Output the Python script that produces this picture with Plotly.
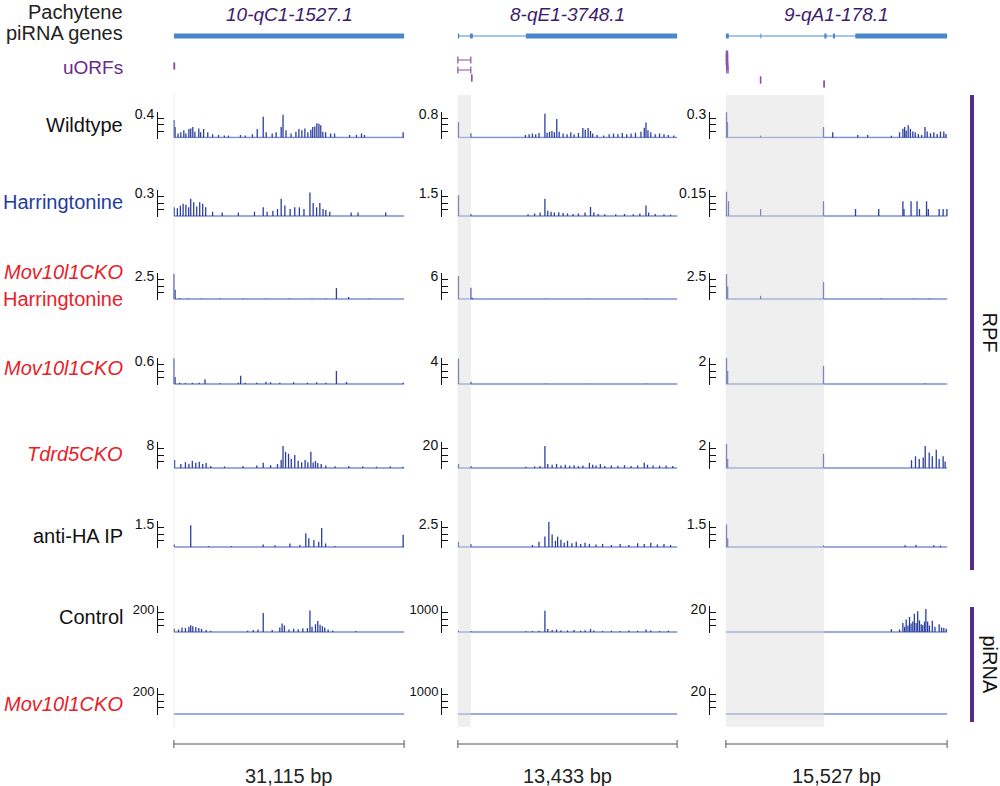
import plotly.graph_objects as go

W, H = 1000, 786

# three loci, each drawn as one column of tracks
genes = ["10-qC1-1527.1", "8-qE1-3748.1", "9-qA1-178.1"]
region_size = ["31,115 bp", "13,433 bp", "15,527 bp"]

track_names = ["Wildtype", "Harringtonine", "Mov10l1CKO Harringtonine", "Mov10l1CKO",
               "Tdrd5CKO", "anti-HA IP", "Control", "Mov10l1CKO"]
scale_max = [[0.4, 0.8, 0.3], [0.3, 1.5, 0.15], [2.5, 6, 2.5], [0.6, 4, 2],
             [8, 20, 2], [1.5, 2.5, 1.5], [200, 1000, 20], [200, 1000, 20]]
scale_text = [["0.4", "0.8", "0.3"], ["0.3", "1.5", "0.15"], ["2.5", "6", "2.5"], ["0.6", "4", "2"],
              ["8", "20", "2"], ["1.5", "2.5", "1.5"], ["200", "1000", "20"], ["200", "1000", "20"]]

# gene models: exon blocks as (start %, end %) of the region
exons_c1 = [(0, 100)]
exons_c2 = [(0, 0.6), (5.5, 6.8), (31, 100)]
exons_c3 = [(0, 1.3), (15.6, 16.0), (44.5, 45.5), (48.4, 49.3), (58.5, 100)]

# uORFs: (start %, end %, row)
uorf_c1 = [(0, 0.3, 3)]
uorf_c2 = [(0, 5.9, 1.5), (0, 5.9, 4), (6.3, 6.4, 6)]
uorf_c3 = [(0.2, 0.8, 0), (0.2, 0.8, 1), (0.2, 0.8, 2), (0.3, 0.9, 3), (0.4, 1.0, 4),
           (15.6, 15.8, 6.5), (44.3, 44.5, 7.5)]

# shaded parts of each locus (start %, end %)
shade = [(-0.3, 0.3), (-0.1, 5.9), (0, 44.4)]

# signal: (position % of region, value)
wt_c1 = [(0.1, 0.27), (0.5, 0.16), (1.8, 0.06), (3.0, 0.08), (4.3, 0.11), (5.2, 0.06), (6.5, 0.13),
         (7.3, 0.14), (8.2, 0.16), (9.1, 0.09), (10.8, 0.14), (11.6, 0.08), (12.9, 0.13), (14.7, 0.08),
         (16.8, 0.05), (19.4, 0.04), (21.9, 0.03), (23.7, 0.03), (28.9, 0.04), (31.0, 0.03), (34.1, 0.05),
         (36.2, 0.13), (38.8, 0.32), (40.1, 0.08), (42.7, 0.06), (44.4, 0.08), (46.6, 0.16), (47.4, 0.35),
         (48.7, 0.11), (50.9, 0.06), (53.0, 0.09), (54.3, 0.13), (55.6, 0.11), (56.9, 0.14), (58.2, 0.08),
         (59.5, 0.12), (60.3, 0.16), (61.2, 0.17), (62.1, 0.22), (63.0, 0.21), (63.8, 0.19), (64.7, 0.09),
         (65.9, 0.08), (68.1, 0.06), (69.8, 0.06), (76.3, 0.04), (79.3, 0.04), (81.5, 0.06), (82.8, 0.04),
         (99.6, 0.08)]
wt_c2 = [(0.3, 0.48), (5.9, 0.13), (30.8, 0.08), (32.5, 0.1), (34.0, 0.12), (35.5, 0.1), (37.0, 0.14),
         (39.7, 0.73), (40.7, 0.15), (41.8, 0.18), (42.9, 0.2), (44.0, 0.16), (45.1, 0.57), (46.2, 0.18),
         (48.0, 0.12), (49.8, 0.1), (51.5, 0.16), (53.0, 0.1), (55.0, 0.14), (57.0, 0.29), (58.1, 0.24),
         (59.4, 0.29), (60.5, 0.2), (61.5, 0.12), (63.5, 0.08), (66.5, 0.06), (69.0, 0.1), (71.0, 0.12),
         (73.0, 0.1), (75.0, 0.14), (77.0, 0.1), (79.0, 0.12), (81.0, 0.15), (83.5, 0.18), (85.0, 0.3),
         (85.8, 0.46), (86.7, 0.22), (88.0, 0.16), (90.0, 0.1), (92.0, 0.12), (94.0, 0.1), (96.0, 0.08),
         (98.5, 0.06)]
wt_c3 = [(0.3, 0.29), (0.7, 0.18), (15.7, 0.02), (44.1, 0.12), (48.3, 0.06), (59.6, 0.03), (64.1, 0.03),
         (74.8, 0.02), (78.5, 0.06), (80.0, 0.1), (80.8, 0.12), (81.5, 0.08), (82.4, 0.14), (83.4, 0.1),
         (84.5, 0.07), (85.6, 0.06), (87.0, 0.04), (88.5, 0.03), (90.0, 0.12), (91.0, 0.07), (92.5, 0.05),
         (94.0, 0.06), (95.5, 0.04), (97.0, 0.07), (98.5, 0.07), (99.5, 0.04)]

harr_c1 = [(0.2, 0.1), (1.5, 0.09), (2.8, 0.12), (4.0, 0.14), (5.2, 0.13), (6.4, 0.1), (7.3, 0.2),
           (8.6, 0.16), (9.9, 0.11), (11.2, 0.16), (12.5, 0.14), (13.8, 0.1), (16.8, 0.05), (21.0, 0.04),
           (28.0, 0.04), (35.0, 0.05), (38.8, 0.1), (40.5, 0.05), (43.0, 0.06), (45.0, 0.08), (46.6, 0.2),
           (48.2, 0.12), (50.5, 0.08), (52.5, 0.1), (54.5, 0.1), (56.5, 0.08), (59.1, 0.27), (60.5, 0.15),
           (62.0, 0.1), (63.4, 0.15), (64.8, 0.08), (66.0, 0.07), (67.7, 0.05), (77.0, 0.04), (80.0, 0.04),
           (92.0, 0.04)]
harr_c2 = [(0.3, 1.2), (5.9, 0.12), (32.0, 0.1), (35.0, 0.15), (37.5, 0.2), (39.7, 1.0), (41.0, 0.3),
           (42.5, 0.25), (44.0, 0.2), (46.0, 0.22), (48.0, 0.18), (50.0, 0.15), (52.5, 0.12), (55.0, 0.15),
           (58.0, 0.2), (60.5, 0.52), (62.0, 0.2), (64.0, 0.12), (67.0, 0.1), (72.0, 0.1), (76.0, 0.12),
           (80.0, 0.1), (83.0, 0.15), (85.8, 0.6), (87.0, 0.2), (90.0, 0.12), (94.0, 0.1), (97.0, 0.08)]
harr_c3 = [(0.3, 0.14), (1.2, 0.085), (15.7, 0.04), (44.1, 0.085), (58.6, 0.04), (69.1, 0.04), (80.0, 0.085),
           (80.5, 0.04), (83.7, 0.085), (86.4, 0.085), (87.5, 0.04), (90.7, 0.085), (91.5, 0.04), (96.4, 0.04),
           (98.2, 0.04), (99.9, 0.04)]

movh_c1 = [(0.0, 2.4), (0.5, 0.9), (2.5, 0.08), (6.0, 0.05), (12.0, 0.05), (20.0, 0.04), (30.0, 0.04),
           (40.0, 0.05), (50.0, 0.04), (60.0, 0.05), (66.0, 0.06), (70.6, 1.05), (75.9, 0.2), (85.0, 0.04)]
movh_c2 = [(0.3, 5.3), (5.9, 2.6), (6.5, 0.3), (40.0, 0.1), (60.0, 0.08), (86.0, 0.08)]
movh_c3 = [(0.3, 2.4), (0.8, 1.2), (15.7, 0.3), (44.1, 1.65), (70.0, 0.05), (85.0, 0.05), (92.0, 0.05)]

mov_c1 = [(0.0, 0.59), (0.5, 0.16), (2.5, 0.03), (5.0, 0.02), (8.0, 0.03), (11.0, 0.03), (13.5, 0.11),
          (20.0, 0.02), (28.0, 0.03), (29.0, 0.19), (31.0, 0.03), (36.0, 0.03), (40.0, 0.05), (42.0, 0.04),
          (46.0, 0.03), (52.0, 0.04), (58.0, 0.03), (62.0, 0.04), (66.0, 0.03), (70.6, 0.3), (75.0, 0.05),
          (99.6, 0.03)]
mov_c2 = [(0.3, 3.9), (5.9, 0.35), (40.0, 0.05), (60.0, 0.05), (86.0, 0.05)]
mov_c3 = [(0.3, 2.0), (0.8, 1.0), (44.1, 1.4), (90.0, 0.03)]

tdrd5_c1 = [(0.3, 2.5), (3.0, 1.2), (5.0, 1.8), (6.5, 1.3), (8.0, 2.2), (9.5, 1.6), (11.0, 1.9), (12.5, 1.2),
            (14.0, 1.5), (16.0, 0.6), (22.0, 0.5), (30.0, 0.6), (36.0, 0.8), (38.8, 1.6), (42.0, 0.9),
            (45.0, 1.2), (46.6, 2.5), (47.4, 6.8), (48.5, 5.0), (49.8, 4.4), (51.0, 2.8), (52.5, 4.0),
            (54.0, 2.2), (55.5, 1.8), (57.0, 2.5), (58.2, 1.8), (59.5, 5.0), (60.5, 1.7), (61.5, 2.2),
            (62.5, 1.5), (64.0, 1.2), (66.0, 0.8), (70.0, 0.5), (76.0, 0.6), (82.0, 0.5), (88.0, 0.4),
            (94.0, 0.5), (99.5, 0.4)]
tdrd5_c2 = [(0.3, 3.0), (5.9, 1.5), (31.0, 1.0), (35.0, 1.2), (37.5, 1.5), (39.7, 17.0), (41.0, 3.0),
            (43.0, 2.5), (45.0, 3.2), (47.0, 2.0), (49.0, 2.5), (51.0, 1.8), (53.0, 2.2), (55.0, 1.5),
            (57.0, 2.0), (60.0, 4.0), (61.5, 2.5), (63.0, 2.0), (65.0, 3.0), (67.0, 1.5), (70.0, 2.0),
            (73.0, 1.8), (76.0, 2.2), (79.0, 1.6), (82.0, 2.0), (85.0, 4.0), (86.5, 2.5), (89.0, 2.0),
            (92.0, 1.8), (95.0, 2.0), (98.0, 1.5)]
tdrd5_c3 = [(0.3, 1.85), (0.8, 0.7), (44.1, 1.1), (83.9, 0.6), (85.7, 0.9), (87.4, 0.7), (89.2, 0.8),
            (90.1, 1.7), (91.9, 1.2), (93.3, 0.9), (95.1, 1.4), (96.4, 0.7), (98.2, 0.9), (99.1, 0.5)]

ha_c1 = [(0.2, 0.15), (7.3, 1.25), (15.0, 0.05), (25.0, 0.05), (38.8, 0.15), (43.9, 0.1), (50.4, 0.2),
         (54.7, 0.12), (57.3, 0.8), (58.6, 0.5), (60.8, 0.4), (62.9, 0.3), (64.2, 1.1), (65.9, 0.2),
         (70.0, 0.06), (99.6, 0.7)]
ha_c2 = [(0.3, 0.5), (5.9, 0.3), (34.0, 0.2), (37.0, 0.5), (39.7, 1.0), (41.5, 2.4), (43.0, 1.2), (44.5, 0.6),
         (45.5, 1.0), (47.0, 0.7), (48.5, 0.4), (50.0, 0.6), (52.0, 0.35), (54.0, 0.5), (56.0, 0.3),
         (58.0, 0.4), (60.0, 0.3), (63.0, 0.25), (66.0, 0.3), (70.0, 0.2), (74.0, 0.3), (78.0, 0.2),
         (82.0, 0.35), (85.0, 0.3), (88.0, 0.4), (91.0, 0.25), (94.0, 0.3), (97.0, 0.2)]
ha_c3 = [(0.3, 1.3), (0.8, 0.5), (44.1, 0.1), (81.0, 0.1), (86.0, 0.12), (94.0, 0.1), (97.0, 0.08)]

ctrl_c1 = [(0.2, 25), (2.0, 20), (3.5, 35), (5.0, 30), (6.5, 40), (7.3, 52), (8.2, 45), (9.5, 38),
           (10.8, 30), (12.0, 25), (14.0, 15), (16.0, 10), (32.0, 10), (34.5, 15), (36.5, 20), (38.8, 146),
           (42.7, 15), (46.0, 35), (47.0, 66), (48.0, 50), (50.0, 20), (52.0, 25), (54.0, 22), (56.0, 28),
           (58.0, 30), (59.1, 165), (60.0, 40), (61.5, 60), (62.5, 84), (63.5, 55), (64.5, 45), (65.5, 35),
           (67.0, 20), (69.0, 12), (79.0, 8)]
ctrl_c2 = [(0.3, 60), (5.9, 40), (31.0, 30), (34.0, 40), (37.0, 50), (39.7, 820), (41.0, 120), (43.0, 80),
           (45.0, 100), (47.0, 70), (50.0, 60), (53.0, 80), (56.0, 50), (58.0, 70), (60.5, 120), (62.0, 60),
           (66.0, 40), (70.0, 50), (74.0, 40), (78.0, 60), (82.0, 50), (85.8, 100), (88.0, 60), (92.0, 40),
           (96.0, 50)]
ctrl_c3 = [(74.8, 2.2), (78.5, 2.0), (80.0, 7.0), (80.8, 4.0), (81.5, 9.6), (82.3, 5.0), (83.0, 11.6),
           (83.7, 6.6), (84.5, 8.0), (85.2, 14.0), (86.0, 7.0), (86.7, 16.0), (87.5, 9.0), (88.3, 6.0),
           (89.0, 5.4), (89.8, 8.0), (90.4, 17.7), (91.2, 8.0), (92.0, 5.0), (93.3, 8.6), (94.5, 4.0),
           (96.4, 6.0), (97.5, 3.5), (98.5, 3.0), (99.6, 2.5)]

pi_mov_c1, pi_mov_c2, pi_mov_c3 = [], [], []

signals = [[wt_c1, wt_c2, wt_c3], [harr_c1, harr_c2, harr_c3], [movh_c1, movh_c2, movh_c3],
           [mov_c1, mov_c2, mov_c3], [tdrd5_c1, tdrd5_c2, tdrd5_c3], [ha_c1, ha_c2, ha_c3],
           [ctrl_c1, ctrl_c2, ctrl_c3], [pi_mov_c1, pi_mov_c2, pi_mov_c3]]
exons = [exons_c1, exons_c2, exons_c3]
uorfs = [uorf_c1, uorf_c2, uorf_c3]

# layout in pixels
col_px = [(173, 405), (457, 678), (725, 948)]
base_px = [137.5, 216, 299, 384, 468, 547, 632, 714]
label_px = [125, 202, None, 368, 454, 536, 617, 704]
track_h = 26
XR = [-0.4, 100.4]

FONT = "Liberation Sans, Arial, sans-serif"
SIG = "#2a3e9e"
BASE = "#7d8fd0"
GENE = "#4a86c8"
PURPLE = "#5b2c87"
RED = "#e8202a"


def py(p):
    return 1 - p / H


def text(txt, x, y, size, color, xanchor="right", xref="paper", angle=0):
    return dict(text=txt, x=x, y=py(y), xref=xref, yref="paper", xanchor=xanchor, yanchor="middle",
                textangle=angle, showarrow=False, font=dict(size=size, color=color))


fig = go.Figure()
layout = dict(width=W, height=H, margin=dict(l=0, r=0, t=0, b=0), template="none",
              paper_bgcolor="white", plot_bgcolor="white", showlegend=False,
              font=dict(family=FONT, color="#111"))
shapes, annotations = [], []

for c in range(3):
    x0, x1 = col_px[c]
    for r in range(8):
        k = c * 8 + r + 1
        m = scale_max[r][c]
        b = base_px[r]
        layout[f"xaxis{k}"] = dict(domain=[x0 / W, x1 / W], range=XR, visible=False, anchor=f"y{k}")
        layout[f"yaxis{k}"] = dict(
            domain=[py(b + 1), py(b - track_h)], range=[-m / track_h, m], anchor="free",
            position=(x0 - 16) / W, showline=True, linecolor="#111", linewidth=1,
            ticks="inside", ticklen=6, tickwidth=1, tickcolor="#111",
            tickvals=[0, m / 4, m / 2, 3 * m / 4, m], ticktext=["", "", "", "", scale_text[r][c]],
            ticklabelshift=3, tickfont=dict(size=13 if m >= 100 else 14, color="#111"),
            showgrid=False, zeroline=False)
        fig.add_trace(go.Scatter(x=[0, 100], y=[0, 0], mode="lines", xaxis=f"x{k}", yaxis=f"y{k}",
                                 line=dict(color=BASE, width=1.4), hoverinfo="skip"))
        xs, ys = [], []
        for p, v in signals[r][c]:
            xs += [p, p, None]
            ys += [0, v, None]
        if xs:
            fig.add_trace(go.Scatter(x=xs, y=ys, mode="lines", xaxis=f"x{k}", yaxis=f"y{k}",
                                     line=dict(color=SIG, width=1.3)))

    # gene model
    g = 25 + c
    layout[f"xaxis{g}"] = dict(domain=[x0 / W, x1 / W], range=XR, visible=False, anchor=f"y{g}")
    layout[f"yaxis{g}"] = dict(domain=[py(42), py(30)], range=[0, 1], visible=False, anchor=f"x{g}")
    fig.add_trace(go.Scatter(x=[0, 100], y=[0.5, 0.5], mode="lines", xaxis=f"x{g}", yaxis=f"y{g}",
                             line=dict(color="#86b4e2", width=1.6)))
    for s, e in exons[c]:
        fig.add_trace(go.Scatter(x=[s, e], y=[0.5, 0.5], mode="lines", xaxis=f"x{g}", yaxis=f"y{g}",
                                 line=dict(color=GENE, width=5)))
    annotations.append(text(f"<i>{genes[c]}</i>", 50, 15, 19, "#3d1c6e", "center", f"x{g}"))

    # uORFs
    u = 28 + c
    layout[f"xaxis{u}"] = dict(domain=[x0 / W, x1 / W], range=XR, visible=False, anchor=f"y{u}")
    layout[f"yaxis{u}"] = dict(domain=[py(90), py(50)], range=[9, -1], visible=False, anchor=f"x{u}")
    for s, e, row in uorfs[c]:
        fig.add_trace(go.Scatter(x=[s, e], y=[row, row], mode="lines+markers", xaxis=f"x{u}", yaxis=f"y{u}",
                                 line=dict(color="#8a4fa6", width=1),
                                 marker=dict(symbol="line-ns", size=5, line=dict(color="#8a4fa6", width=1.2))))

    # shaded region over the tracks
    s, e = shade[c]
    shapes.append(dict(type="rect", xref=f"x{c * 8 + 1}", yref="paper", x0=s, x1=e, y0=py(727), y1=py(95),
                       fillcolor="rgba(222,222,222,0.47)", line=dict(width=0), layer="above"))

    # scale bar
    shapes.append(dict(type="line", xref=f"x{g}", yref="paper", x0=0, x1=100, y0=py(744), y1=py(744),
                       line=dict(color="#555", width=1)))
    for xe in (0, 100):
        shapes.append(dict(type="line", xref=f"x{g}", yref="paper", x0=xe, x1=xe, y0=py(740), y1=py(748),
                           line=dict(color="#555", width=1)))
    annotations.append(text(region_size[c], 50, 776, 20, "#222", "center", f"x{g}"))

# left labels
label_color = ["#111", "#1f3c9c", RED, RED, RED, "#111", "#111", RED]
for r, name in enumerate(track_names):
    if r == 2:
        annotations.append(text("<i>Mov10l1CKO</i>", 125 / W, 272, 20, RED))
        annotations.append(text("Harringtonine", 125 / W, 299, 20, RED))
        continue
    txt = f"<i>{name}</i>" if label_color[r] == RED else name
    annotations.append(text(txt, 125 / W, label_px[r], 20, label_color[r]))

annotations.append(text("Pachytene", 125 / W, 12, 20, "#222"))
annotations.append(text("piRNA genes", 125 / W, 33, 20, "#222"))
annotations.append(text("uORFs", 125 / W, 67, 19, "#6a2a8a"))

# data type brackets on the right
for y0, y1, lab in [(95, 570, "RPF"), (607, 722, "piRNA")]:
    shapes.append(dict(type="line", xref="paper", yref="paper", x0=972 / W, x1=972 / W, y0=py(y0), y1=py(y1),
                       line=dict(color=PURPLE, width=4)))
    annotations.append(text(lab, 990 / W, (y0 + y1) / 2, 20, "#111", "center", angle=90))

layout["shapes"] = shapes
layout["annotations"] = annotations
fig.update_layout(**layout)
fig.write_html("out.html", config={"displayModeBar": False},
               post_script="document.body.style.margin = '0px';")
